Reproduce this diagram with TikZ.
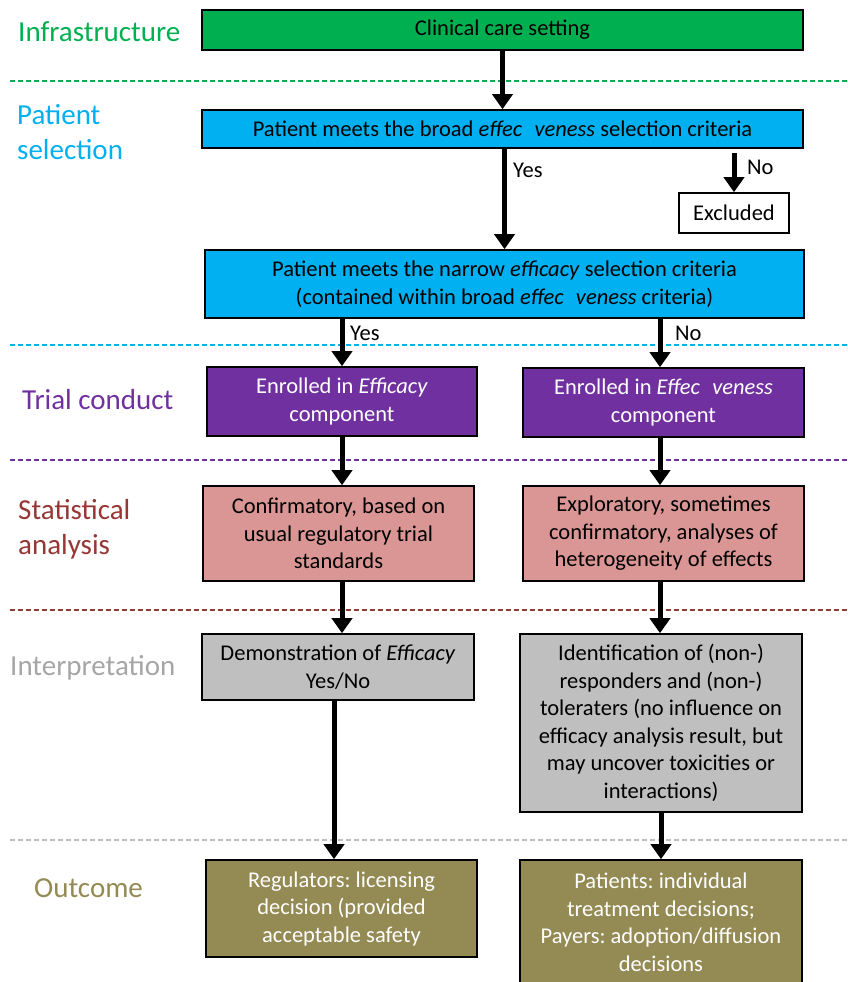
\documentclass[tikz,border=0pt]{standalone}
\usepackage{fontspec}
\setmainfont{Carlito}
\usetikzlibrary{arrows.meta}
\definecolor{cgreen}{HTML}{00B050}
\definecolor{cblue}{HTML}{00B0F0}
\definecolor{cpurple}{HTML}{7030A0}
\definecolor{cred}{HTML}{953735}
\definecolor{cpink}{HTML}{D99694}
\definecolor{cgrey}{HTML}{BFBFBF}
\definecolor{cgreytext}{HTML}{A6A6A6}
\definecolor{colive}{HTML}{948A54}
\newcommand{\gapword}[2]{\textit{#1\hspace{0.55em}#2}}
\frenchspacing
\begin{document}
\begin{tikzpicture}[x=1pt,y=-1pt,
  box/.style={draw=black, line width=1.6pt, align=center, inner sep=0pt,
    font=\fontsize{22.5}{27.5}\selectfont\frenchspacing},
  arr/.style={line width=5pt, -{Triangle[width=20pt,length=15pt]}},
  sepline/.style={line width=1.5pt, dash pattern=on 5pt off 3pt},
  lab/.style={anchor=west, align=left, inner sep=0pt,
    font=\fontsize{29}{35}\selectfont},
  yn/.style={anchor=west, inner sep=0pt, font=\fontsize{22.5}{27.5}\selectfont}]
\useasboundingbox (0,0) rectangle (848,982);
\clip (0,0) rectangle (848,982);

% separators
\draw[sepline, cgreen] (10,81) -- (848,81);
\draw[sepline, cblue] (10,345) -- (848,345);
\draw[sepline, cpurple] (10,460) -- (848,460);
\draw[sepline, cred] (10,610) -- (848,610);
\draw[sepline, cgrey] (10,840) -- (848,840);

% left labels
\node[lab, text=cgreen] (lInfra) at (18,32) {Infrastructure};
\node[lab, text=cblue] (lSel) at (17,132.5) {Patient\\selection};
\node[lab, text=cpurple] (lTrial) at (22,400) {Trial conduct};
\node[lab, text=cred] (lStat) at (18,529.5) {Statistical\\analysis};
\node[lab, text=cgreytext] (lInt) at (10,668) {Interpretation};
\node[lab, text=colive] (lOut) at (34,888) {Outcome};

% boxes
\node[box, fill=cgreen, minimum width=601, minimum height=40] (clin) at (502.5,30) {Clinical care setting};
\node[box, fill=cblue, minimum width=601, minimum height=38] (broad) at (502.5,129)
  {Patient meets the broad \gapword{effec}{veness} selection criteria};
\node[box, fill=white, minimum width=110, minimum height=40] (excl) at (734,213) {Excluded};
\node[box, fill=cblue, minimum width=599, minimum height=68] (narrow) at (504.5,284)
  {Patient meets the narrow \textit{efficacy} selection criteria\\(contained within broad \gapword{effec}{veness} criteria)};
\node[box, fill=cpurple, text=white, minimum width=270, minimum height=69] (effL) at (342,401.5)
  {Enrolled in \textit{Efficacy}\\component};
\node[box, fill=cpurple, text=white, minimum width=281, minimum height=69] (effR) at (663.5,402.5)
  {Enrolled in \gapword{Effec}{veness}\\component};
\node[box, fill=cpink, minimum width=271, minimum height=95] (statL) at (338.5,533.5)
  {Confirmatory, based on\\usual regulatory trial\\standards};
\node[box, fill=cpink, minimum width=281, minimum height=95] (statR) at (663.5,533.5)
  {Exploratory, sometimes\\confirmatory, analyses of\\heterogeneity of effects};
\node[box, fill=cgrey, minimum width=272, minimum height=66] (intL) at (338,667)
  {Demonstration of \textit{Efficacy}\\Yes/No};
\node[box, fill=cgrey, minimum width=282, minimum height=178] (intR) at (661,723)
  {Identification of (non-)\\responders and (non-)\\toleraters (no influence on\\efficacy analysis result, but\\may uncover toxicities or\\interactions)};
\node[box, fill=colive, text=white, minimum width=271, minimum height=97] (outL) at (341.5,908.5)
  {Regulators: licensing\\decision (provided\\acceptable safety};
\node[box, fill=colive, text=white, minimum width=282, minimum height=125] (outR) at (661,922.5)
  {Patients: individual\\treatment decisions;\\Payers: adoption/diffusion\\decisions};

% yes/no labels
\node[yn] (yes1) at (513,170) {Yes};
\node[yn] (no1) at (747,167) {No};
\node[yn] (yes2) at (350,333) {Yes};
\node[yn] (no2) at (675,333) {No};

% connectors
\draw[arr] (clin.south) -- (broad.north);
\draw[arr] (broad.south -| narrow.north) -- (narrow.north);
\draw[arr] ([yshift=-4pt]broad.south -| excl.north) -- (excl.north);
\draw[arr] (narrow.south -| effL.north) -- (effL.north);
\draw[arr] ([xshift=-3.5pt]narrow.south -| effR.north) -- ([xshift=-3.5pt]effR.north);
\draw[arr] (effL.south) -- (effL.south |- statL.north);
\draw[arr] ([xshift=-3.5pt]effR.south) -- ([xshift=-3.5pt]effR.south |- statR.north);
\draw[arr] (statL.south -| effL.south) -- (intL.north -| effL.south);
\draw[arr] ([xshift=-3.5pt]statR.south) -- ([xshift=-3.5pt]statR.south |- intR.north);
\draw[arr] ([xshift=-4pt]intL.south) -- ([xshift=-4pt]intL.south |- outL.north);
\draw[arr] (intR.south) -- (outR.north);
\end{tikzpicture}
\end{document}
